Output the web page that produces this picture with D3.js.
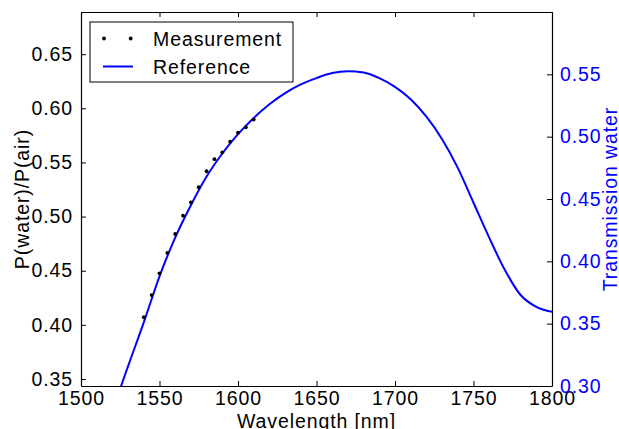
<!DOCTYPE html>
<html><head><meta charset="utf-8">
<script src="https://cdn.jsdelivr.net/npm/d3@7"></script>
<style>body{margin:0;background:#fff}svg{display:block}text{font-family:"Liberation Sans",Arial,sans-serif}</style>
</head><body><svg id="c" width="619" height="429"></svg>
<script>
const measWl = [1540,1545,1550,1555,1560,1565,1570,1575,1580,1585,1590,1595,1600,1605,1610];
const measVal = [0.407,0.4275,0.4476,0.4664,0.4839,0.5008,0.5132,0.5271,0.5419,0.553,0.5594,0.5692,0.5775,0.5825,0.5896];
const refWl = [1520,1525,1530,1540,1550,1560,1570,1580,1590,1600,1610,1620,1630,1640,1650,1660,1670,1680,1690,1700,1710,1720,1730,1740,1750,1760,1770,1780,1790,1800];
const refVal = [0.279,0.298,0.316,0.351,0.388,0.419,0.445,0.468,0.4865,0.502,0.515,0.526,0.535,0.542,0.547,0.551,0.5525,0.5515,0.547,0.540,0.530,0.516,0.498,0.475,0.447,0.419,0.393,0.373,0.3635,0.3595];
const xTicks = [1500,1550,1600,1650,1700,1750,1800];
const leftTicks = [0.35,0.40,0.45,0.50,0.55,0.60,0.65];
const rightTicks = [0.30,0.35,0.40,0.45,0.50,0.55];

const L=81,R=552,T=12,B=386;
const svg=d3.select("#c");
const x=d3.scaleLinear().domain([1500,1800]).range([L,R]);
const yL=d3.scaleLinear().domain([0.3435,0.689]).range([B,T]);
const yR=d3.scaleLinear().domain([0.3,0.6]).range([B,T]);
const fs=19.5, ls="0.9px", blue="#0000ff";

svg.append("defs").append("clipPath").attr("id","clip").append("rect").attr("x",L).attr("y",T).attr("width",R-L).attr("height",B-T);

// curve
const line=d3.line().x((d,i)=>x(refWl[i])).y((d,i)=>yR(refVal[i])).curve(d3.curveMonotoneX);
svg.append("path").attr("d",line(refVal)).attr("fill","none").attr("stroke",blue).attr("stroke-width",2).attr("clip-path","url(#clip)");
// dots
svg.selectAll("circle.m").data(measVal).enter().append("circle").attr("class","m")
  .attr("cx",(d,i)=>x(measWl[i])).attr("cy",d=>yL(d)).attr("r",1.9).attr("fill","#000");

// axes
const axB=d3.axisBottom(x).tickValues(xTicks).tickFormat(d3.format("d")).tickSizeInner(-5).tickSizeOuter(0).tickPadding(7);
const gB=svg.append("g").attr("transform",`translate(0,${B})`).call(axB);
const axT=d3.axisTop(x).tickValues(xTicks).tickSizeInner(-5).tickSizeOuter(0).tickFormat("");
const gT=svg.append("g").attr("transform",`translate(0,${T})`).call(axT);
const axL=d3.axisLeft(yL).tickValues(leftTicks).tickFormat(d3.format(".2f")).tickSizeInner(-5).tickSizeOuter(0).tickPadding(8);
const gL=svg.append("g").attr("transform",`translate(${L},0)`).call(axL);
const axR=d3.axisRight(yR).tickValues(rightTicks).tickFormat(d3.format(".2f")).tickSizeInner(-5).tickSizeOuter(0).tickPadding(8);
const gR=svg.append("g").attr("transform",`translate(${R},0)`).call(axR);
[gB,gT,gL,gR].forEach(g=>{
  g.select(".domain").attr("stroke","#000").attr("stroke-width",1.2);
  g.selectAll(".tick line").attr("stroke","#000");
  g.selectAll("text").attr("font-size",fs).attr("fill","#000").style("font-family","Liberation Sans, Arial, sans-serif").attr("letter-spacing",ls);
});
gR.selectAll("text").attr("fill",blue);
gB.selectAll("text").attr("dy","0.6em");

// labels
svg.append("text").attr("x",(L+R)/2).attr("y",428).attr("text-anchor","middle").attr("font-size",fs).attr("letter-spacing",ls).text("Wavelength [nm]");
svg.append("text").attr("transform",`translate(29,${(T+B)/2}) rotate(-90)`).attr("text-anchor","middle").attr("font-size",fs).attr("letter-spacing",ls).text("P(water)/P(air)");
svg.append("text").attr("transform",`translate(617,${(T+B)/2}) rotate(-90)`).attr("text-anchor","middle").attr("font-size",fs).attr("letter-spacing",ls).attr("fill",blue).text("Transmission water");

// legend
const lg=svg.append("g");
lg.append("rect").attr("x",90).attr("y",22).attr("width",203).attr("height",60).attr("fill","#fff").attr("stroke","#000").attr("stroke-width",1);
[104,130.7].forEach(cx=>lg.append("circle").attr("cx",cx).attr("cy",38.5).attr("r",1.9).attr("fill","#000"));
lg.append("line").attr("x1",103).attr("x2",133).attr("y1",66.5).attr("y2",66.5).attr("stroke",blue).attr("stroke-width",2);
lg.append("text").attr("x",153).attr("y",45.5).attr("font-size",fs).attr("letter-spacing",ls).text("Measurement");
lg.append("text").attr("x",153).attr("y",74).attr("font-size",fs).attr("letter-spacing",ls).text("Reference");
</script></body></html>
